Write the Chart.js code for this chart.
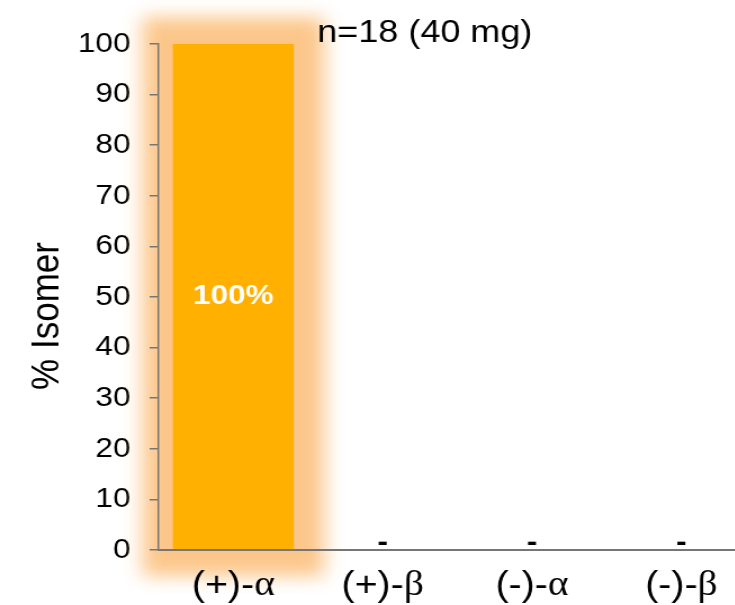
<!DOCTYPE html>
<html>
<head>
<meta charset="utf-8">
<script src="https://cdn.jsdelivr.net/npm/chart.js@4.4.1/dist/chart.umd.min.js"></script>
<style>
    html, body { margin: 0; padding: 0; background: #fff; overflow: hidden; }
    #wrap { width: 735px; height: 605px; overflow: hidden; }
    /* the original picture is stretched a bit sideways */
    #chart { transform: scaleX(1.125); transform-origin: 0 0; }
</style>
</head>
<body>
<div id="wrap"><canvas id="chart" width="672" height="605"></canvas></div>
<script>
// data
const isomers = ['(+)-α', '(+)-β', '(-)-α', '(-)-β'];
const percentIsomer = [100, 0, 0, 0];
const barLabels = ['100%', '-', '-', '-'];
const yTickValues = [0, 10, 20, 30, 40, 50, 60, 70, 80, 90, 100];
const chartTitle = 'n=18 (40 mg)';
const yAxisTitle = '% Isomer';

const axisColor = '#767676';

// soft orange glow behind the highlighted bar
const glowPlugin = {
    id: 'glow',
    beforeDatasetsDraw(chart) {
        const bar = chart.getDatasetMeta(0).data[0];
        const { x, y, base, width } = bar.getProps(['x', 'y', 'base', 'width'], true);
        const ctx = chart.ctx;
        const pad = 27;
        ctx.save();
        ctx.filter = 'blur(9px)';
        ctx.fillStyle = 'rgb(252, 198, 138)';
        ctx.fillRect(x - width / 2 - pad, y - pad, width + 2 * pad, base - y + 2 * pad);
        ctx.restore();
    }
};

// value labels, category labels and titles
const textPlugin = {
    id: 'texts',
    afterDraw(chart) {
        const ctx = chart.ctx;
        const area = chart.chartArea;
        const xScale = chart.scales.x;
        const meta = chart.getDatasetMeta(0);

        ctx.save();
        ctx.textAlign = 'center';
        ctx.textBaseline = 'middle';
        meta.data.forEach((bar, i) => {
            const { x, y, base } = bar.getProps(['x', 'y', 'base'], true);
            ctx.font = 'bold 28px "Liberation Sans", Arial, sans-serif';
            if (percentIsomer[i] > 0) {
                ctx.fillStyle = '#ffffff';
                ctx.fillText(barLabels[i], x, (y + base) / 2);
            } else {
                ctx.fillStyle = '#000000';
                ctx.fillText(barLabels[i], x, base - 7);
            }
        });

        // category labels: sign part in sans, greek letter in serif
        ctx.fillStyle = '#000000';
        ctx.textAlign = 'left';
        const sansFont = '35px "Liberation Sans", Arial, sans-serif';
        const serifFont = '35px "Liberation Serif", "Times New Roman", serif';
        isomers.forEach((label, i) => {
            const cx = xScale.getPixelForValue(i);
            const head = label.slice(0, -1);
            const greek = label.slice(-1);
            ctx.font = sansFont;
            const w1 = ctx.measureText(head).width;
            ctx.font = serifFont;
            const w2 = ctx.measureText(greek).width;
            const left = cx - (w1 + w2) / 2;
            const ly = area.bottom + 36;
            ctx.font = sansFont;
            ctx.fillText(head, left, ly);
            ctx.font = serifFont;
            ctx.fillText(greek, left + w1, ly);
        });

        // chart title
        ctx.font = '32px "Liberation Sans", Arial, sans-serif';
        ctx.textBaseline = 'alphabetic';
        ctx.fillText(chartTitle, area.left + 141, 42);

        // y axis title
        ctx.translate(42, (area.top + area.bottom) / 2 + 19);
        ctx.rotate(-Math.PI / 2);
        ctx.textAlign = 'center';
        ctx.textBaseline = 'middle';
        ctx.font = '35px "Liberation Sans", Arial, sans-serif';
        ctx.fillText(yAxisTitle, 0, 0);
        ctx.restore();
    }
};

new Chart(document.getElementById('chart'), {
    type: 'bar',
    data: {
        labels: isomers,
        datasets: [{
            label: yAxisTitle,
            data: percentIsomer,
            backgroundColor: '#FFB000',
            borderWidth: 0,
            barPercentage: 0.81,
            categoryPercentage: 1.0,
        }],
    },
    options: {
        responsive: false,
        animation: false,
        layout: { padding: { top: 44, right: 0, bottom: 0, left: 0 } },
        plugins: {
            legend: { display: false },
            tooltip: { enabled: false },
        },
        scales: {
            x: {
                grid: { display: false },
                border: { display: true, color: axisColor, width: 2, z: 1 },
                ticks: { display: false },
                afterFit(scale) { scale.height = 55; },
            },
            y: {
                min: 0,
                max: 100,
                afterBuildTicks(scale) {
                    scale.ticks = yTickValues.map(v => ({ value: v }));
                },
                grid: {
                    drawOnChartArea: false,
                    drawTicks: true,
                    tickLength: 8,
                    color: axisColor,
                    lineWidth: 1.5,
                    z: 1,
                },
                border: { display: true, color: axisColor, width: 1.5, z: 1 },
                ticks: {
                    color: '#000000',
                    padding: 17,
                    font: { family: '"Liberation Sans", Arial, sans-serif', size: 28 },
                },
                afterFit(scale) { scale.width = 141; },
            },
        },
    },
    plugins: [glowPlugin, textPlugin],
});
</script>
</body>
</html>
